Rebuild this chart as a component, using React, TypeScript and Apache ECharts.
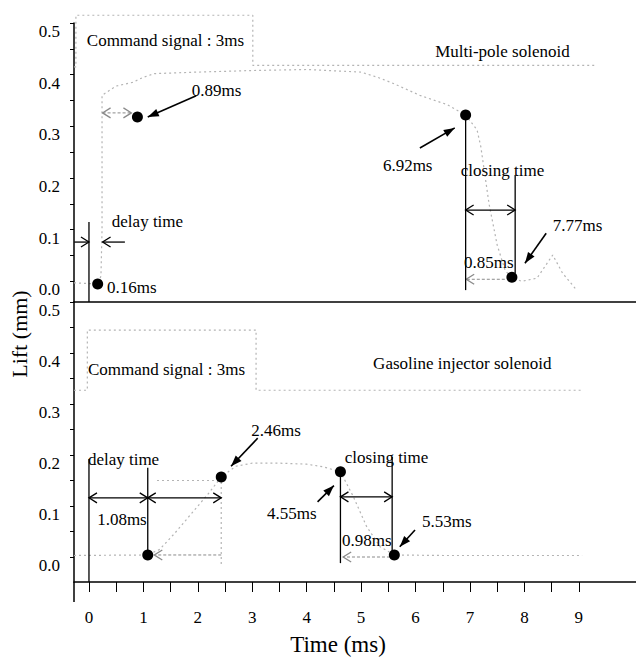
import React, { useEffect, useRef } from 'react';
import * as echarts from 'echarts';

const FONT = '"Liberation Serif", "Times New Roman", serif';

// ---- axes ----
const xTickValues = [0, 0.5, 1, 1.5, 2, 2.5, 3, 3.5, 4, 4.5, 5, 5.5, 6, 6.5, 7, 7.5, 8, 8.5, 9];
const xLabelValues = [0, 1, 2, 3, 4, 5, 6, 7, 8, 9];
const yTickValues = [0, 0.05, 0.1, 0.15, 0.2, 0.25, 0.3, 0.35, 0.4, 0.45, 0.5];
const yLabelValues = [0, 0.1, 0.2, 0.3, 0.4, 0.5];

// ---- top panel: multi-pole solenoid ----
const mpCommand: number[][] = [
  [-0.275, 0.415], [-0.24, 0.415], [-0.24, 0.515], [3.01, 0.515], [3.01, 0.418], [9.33, 0.418],
];
const mpLift: number[][] = [
  [-0.275, -0.003], [0.16, -0.005], [0.22, 0.01], [0.24, 0.1], [0.24, 0.36], [0.5, 0.378],
  [0.8, 0.385], [1.0, 0.395], [1.2, 0.402], [2.0, 0.405], [3.0, 0.408], [4.0, 0.41],
  [5.0, 0.405], [5.3, 0.395], [5.57, 0.384], [6.08, 0.36], [6.58, 0.342], [6.92, 0.322],
  [7.13, 0.293], [7.2, 0.26], [7.35, 0.15], [7.5, 0.07], [7.65, 0.02], [7.77, 0.008],
  [7.95, 0.0], [8.23, 0.006], [8.52, 0.051], [8.7, 0.016], [8.96, -0.017],
];
const mpMarkers: number[][] = [[0.16, -0.005], [0.89, 0.318], [6.92, 0.322], [7.77, 0.008]];

// ---- bottom panel: gasoline injector solenoid ----
const giCommand: number[][] = [
  [-0.275, 0.327], [-0.03, 0.327], [-0.03, 0.445], [3.07, 0.445], [3.07, 0.327], [9.06, 0.327],
];
const giLift: number[][] = [
  [-0.275, 0.003], [1.08, 0.004], [1.3, 0.015], [1.58, 0.047], [1.89, 0.086], [2.2, 0.125],
  [2.43, 0.157], [2.7, 0.178], [3.0, 0.184], [3.5, 0.184], [4.0, 0.182], [4.3, 0.177],
  [4.62, 0.167], [4.85, 0.12], [5.1, 0.06], [5.35, 0.02], [5.61, 0.004], [6.5, 0.003], [9.06, 0.003],
];
const giMarkers: number[][] = [[1.08, 0.004], [2.43, 0.157], [4.62, 0.167], [5.61, 0.004]];

// ---- annotations (panel, data coords) ----
const annotTexts: [number, string, number, number][] = [
  [0, 'Command signal : 3ms', -0.04, 0.467],
  [0, 'Multi-pole solenoid', 6.36, 0.444],
  [0, '0.89ms', 1.89, 0.37],
  [0, 'delay time', 0.42, 0.115],
  [0, '0.16ms', 0.33, -0.011],
  [0, '6.92ms', 5.4, 0.225],
  [0, 'closing time', 6.83, 0.215],
  [0, '0.85ms', 6.89, 0.037],
  [0, '7.77ms', 8.52, 0.109],
  [1, 'Command signal : 3ms', -0.02, 0.367],
  [1, 'Gasoline injector solenoid', 5.22, 0.38],
  [1, 'delay time', -0.02, 0.192],
  [1, '1.08ms', 0.15, 0.073],
  [1, '2.46ms', 2.98, 0.249],
  [1, '4.55ms', 3.27, 0.086],
  [1, 'closing time', 4.7, 0.196],
  [1, '0.98ms', 4.65, 0.033],
  [1, '5.53ms', 6.12, 0.069],
];
// pointer arrows with filled heads: panel, from, to
const pointerArrows: [number, number[], number[]][] = [
  [0, [1.97, 0.359], [1.08, 0.318]],
  [0, [6.08, 0.258], [6.72, 0.297]],
  [0, [8.4, 0.093], [8.01, 0.035]],
  [1, [3.1, 0.233], [2.61, 0.178]],
  [1, [4.2, 0.108], [4.5, 0.14]],
  [1, [5.99, 0.053], [5.71, 0.02]],
];
// dimension arrows with open heads: panel, from, to, both ends?, gray?
const dimArrows: [number, number[], number[], boolean, boolean][] = [
  [0, [-0.27, 0.076], [0, 0.076], false, false],
  [0, [0.66, 0.076], [0.25, 0.076], false, false],
  [0, [6.92, 0.138], [7.83, 0.138], true, false],
  [0, [0.25, 0.326], [0.78, 0.326], true, true],
  [0, [7.64, 0.004], [6.93, 0.004], false, true],
  [1, [0, 0.116], [1.08, 0.116], true, false],
  [1, [1.08, 0.116], [2.43, 0.116], true, false],
  [1, [4.62, 0.118], [5.57, 0.118], true, false],
  [1, [2.43, 0.004], [1.2, 0.004], false, true],
  [1, [5.53, 0.0], [4.67, 0.0], false, true],
];
// vertical guide lines: panel, x, y1, y2, gray?
const vLines: [number, number, number, number, boolean][] = [
  [0, 0, 0.115, -0.04, false],
  [0, 6.92, 0.322, -0.017, false],
  [0, 7.83, 0.206, 0.016, false],
  [1, 0, 0.192, -0.049, false],
  [1, 1.08, 0.175, 0.004, false],
  [1, 4.62, 0.167, -0.012, false],
  [1, 5.57, 0.196, 0.0, false],
  [1, 2.43, 0.157, -0.016, true],
];
const hGuides: [number, number, number, number][] = [[1, 1.25, 2.33, 0.15]];

const GRAY = '#b4b4b4';

export default function App() {
  const ref = useRef<HTMLDivElement>(null);
  useEffect(() => {
    if (!ref.current) return;
    const chart = echarts.init(ref.current, undefined, { renderer: 'svg' });
    const yAxisBase = (i: number, min: number) => ({
      gridIndex: i,
      type: 'value',
      min,
      max: 0.5,
      axisLine: { show: true, onZero: false, lineStyle: { color: '#000', width: 1.5 } },
      axisTick: { show: true, length: 4, customValues: yTickValues, lineStyle: { color: '#000', width: 1 } },
      axisLabel: {
        customValues: yLabelValues,
        formatter: (v: number) => v.toFixed(1),
        fontFamily: FONT,
        fontSize: 17,
        color: '#000',
        margin: 14,
        verticalAlign: 'top',
      },
      splitLine: { show: false },
    });
    const lineSeries = (data: number[][], i: number) => ({
      type: 'line',
      xAxisIndex: i,
      yAxisIndex: i,
      data,
      showSymbol: false,
      clip: false,
      z: 1,
      lineStyle: { color: GRAY, width: 1.2, type: [2, 3] },
    });
    const markerSeries = (data: number[][], i: number) => ({
      type: 'scatter',
      xAxisIndex: i,
      yAxisIndex: i,
      data,
      symbolSize: 11,
      clip: false,
      z: 5,
      itemStyle: { color: '#000', opacity: 1 },
    });
    chart.setOption({
      animation: false,
      backgroundColor: '#fff',
      grid: [
        { left: 74, right: 0, top: 23, height: 279 },
        { left: 74, right: 0, top: 302, height: 280 },
      ],
      xAxis: [
        {
          gridIndex: 0, type: 'value', min: -0.275, max: 10.05,
          axisLine: { show: true, onZero: false, lineStyle: { color: '#000', width: 1.5 } },
          axisTick: { show: false }, axisLabel: { show: false }, splitLine: { show: false },
        },
        {
          gridIndex: 1, type: 'value', min: -0.275, max: 10.05,
          axisLine: { show: true, onZero: false, lineStyle: { color: '#000', width: 1.5 } },
          axisTick: { show: true, length: 10, customValues: xTickValues, lineStyle: { color: '#000', width: 1 } },
          axisLabel: {
            customValues: xLabelValues,
            formatter: (v: number) => String(v),
            fontFamily: FONT, fontSize: 17, color: '#000', margin: 27,
          },
          splitLine: { show: false },
        },
      ],
      yAxis: [yAxisBase(0, -0.04), yAxisBase(1, -0.049)],
      series: [
        lineSeries(mpCommand, 0),
        lineSeries(mpLift, 0),
        markerSeries(mpMarkers, 0),
        lineSeries(giCommand, 1),
        lineSeries(giLift, 1),
        markerSeries(giMarkers, 1),
      ],
    });

    const P = (g: number, x: number, y: number): number[] =>
      chart.convertToPixel({ gridIndex: g }, [x, y]) as number[];
    const els: any[] = [];
    const line = (a: number[], b: number[], color: string, w: number, dash?: number[], z = 10) =>
      els.push({
        type: 'line', z, silent: true,
        shape: { x1: a[0], y1: a[1], x2: b[0], y2: b[1] },
        style: { stroke: color, lineWidth: w, lineDash: dash || null },
      });
    const head = (from: number[], to: number[], color: string, filled: boolean, z = 10) => {
      const dx = to[0] - from[0], dy = to[1] - from[1];
      const len = Math.hypot(dx, dy) || 1;
      const ux = dx / len, uy = dy / len, nx = -uy, ny = ux;
      const L = filled ? 11 : 8, W = filled ? 4 : 5;
      const bx = to[0] - ux * L, by = to[1] - uy * L;
      const pts = [[bx + nx * W, by + ny * W], [to[0], to[1]], [bx - nx * W, by - ny * W]];
      if (filled) {
        els.push({ type: 'polygon', z, silent: true, shape: { points: pts }, style: { fill: color } });
      } else {
        els.push({ type: 'polyline', z, silent: true, shape: { points: pts }, style: { stroke: color, lineWidth: 1.3, fill: null } });
      }
    };
    pointerArrows.forEach(([g, f, t]) => {
      const a = P(g, f[0], f[1]), b = P(g, t[0], t[1]);
      line(a, b, '#000', 1.6);
      head(a, b, '#000', true);
    });
    dimArrows.forEach(([g, f, t, both, gray]) => {
      const a = P(g, f[0], f[1]), b = P(g, t[0], t[1]);
      const c = gray ? '#8a8a8a' : '#000';
      const z = gray ? 3 : 10;
      line(a, b, c, gray ? 1 : 1.3, gray ? [3, 2] : undefined, z);
      head(a, b, c, false, z);
      if (both) head(b, a, c, false, z);
    });
    vLines.forEach(([g, x, y1, y2, gray]) => {
      const a = P(g, x, y1), b = P(g, x, y2);
      line(a, b, gray ? GRAY : '#000', gray ? 1.2 : 1.3, gray ? [2, 3] : undefined, gray ? 3 : 10);
    });
    hGuides.forEach(([g, x1, x2, y]) => {
      line(P(g, x1, y), P(g, x2, y), GRAY, 1.2, [2, 3], 3);
    });
    annotTexts.forEach(([g, text, x, y]) => {
      const p = P(g, x, y);
      els.push({
        type: 'text', z: 11, silent: true, x: p[0], y: p[1],
        style: {
          text, fill: '#000', font: `17px ${FONT}`,
          align: 'left', verticalAlign: 'middle', textAlign: 'left', textVerticalAlign: 'middle',
        },
      });
    });
    // y axis continues a little below the time axis
    const axBottom = P(1, -0.275, -0.049);
    line(axBottom, [axBottom[0], axBottom[1] + 20], '#000', 1.5);
    // axis titles
    els.push({
      type: 'text', z: 11, silent: true, x: 338, y: 644,
      style: { text: 'Time (ms)', fill: '#000', font: `23px ${FONT}`, align: 'center', verticalAlign: 'middle', textAlign: 'center', textVerticalAlign: 'middle' },
    });
    els.push({
      type: 'text', z: 11, silent: true, x: 19, y: 334, rotation: Math.PI / 2,
      style: { text: 'Lift (mm)', fill: '#000', font: `22px ${FONT}`, align: 'center', verticalAlign: 'middle', textAlign: 'center', textVerticalAlign: 'middle' },
    });
    chart.setOption({ graphic: { elements: els } });
    return () => chart.dispose();
  }, []);
  return <div ref={ref} style={{ position: 'absolute', left: 0, top: 0, width: 636, height: 662, background: '#fff' }} />;
}
